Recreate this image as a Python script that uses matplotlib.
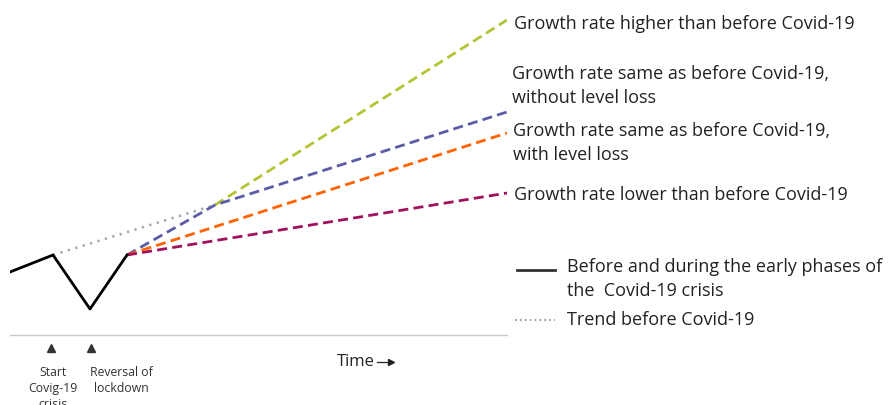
import matplotlib.pyplot as plt
import numpy as np

plt.rcParams['font.family'] = ['Open Sans', 'DejaVu Sans']

# time axis (arbitrary units) and level values of the schematic
t_hist = [0, 4.3, 8.0, 11.7]
lvl_hist = [6.3, 8.0, 2.6, 8.0]

t_trend = [4.3, 20.5]
lvl_trend = [8.0, 13.0]

t_same = [11.7, 20.5, 49.7]
lvl_same = [8.0, 13.0, 22.3]

t_high = [20.5, 49.7]
lvl_high = [13.0, 31.5]

t_loss = [11.7, 49.7]
lvl_loss = [8.0, 20.2]

t_low = [11.7, 49.7]
lvl_low = [8.0, 14.2]

events = [4.1, 8.1]
event_labels = ['Start\nCovig-19\ncrisis', 'Reversal of\nlockdown']

scenario_labels = ['Growth rate higher than before Covid-19',
                   'Growth rate same as before Covid-19,\nwithout level loss',
                   'Growth rate same as before Covid-19,\nwith level loss',
                   'Growth rate lower than before Covid-19']

fig = plt.figure(figsize=(8.88, 4.05), dpi=100)
ax = fig.add_axes([10 / 888, 70 / 405, 497 / 888, 335 / 405])
ax.set_xlim(0, 49.7)
ax.set_ylim(0, 33.5)

dash = (0, (3.6, 1.9))
ax.plot(t_trend, lvl_trend, color='#a6a6a6', lw=1.8, ls=(0, (0.9, 2.2)))
ax.plot(t_high, lvl_high, color='#b5c334', lw=2.0, ls=dash)
ax.plot(t_same, lvl_same, color='#5b5ca6', lw=2.0, ls=dash)
ax.plot(t_loss, lvl_loss, color='#ff6200', lw=2.0, ls=dash)
ax.plot(t_low, lvl_low, color='#a0105c', lw=2.0, ls=dash)
ax.plot(t_hist, lvl_hist, color='black', lw=2.0)

# markers for the events under the time axis
ax.plot(events, [-1.3, -1.3], ls='none', marker='^', color='#333333', ms=6, clip_on=False)
ax.text(events[0] + 0.2, -3.1, event_labels[0], ha='center', va='top', fontsize=8.8,
        color='#333333', linespacing=1.3, clip_on=False)
ax.text(11.1, -3.1, event_labels[1], ha='center', va='top', fontsize=8.8,
        color='#333333', linespacing=1.3, clip_on=False)

for side in ['top', 'right', 'left']:
    ax.spines[side].set_visible(False)
ax.spines['bottom'].set_color('#c8c8c8')
ax.spines['bottom'].set_linewidth(1)
ax.set_xticks([])
ax.set_yticks([])

# "Time" with small arrow
fig.text(337 / 888, 1 - 362 / 405, 'Time', fontsize=12, va='center', ha='left',
         color='#222222')
fig.add_artist(plt.Line2D([377 / 888, 389 / 888], [1 - 362 / 405] * 2, color='#222222', lw=0.9))
fig.add_artist(plt.Line2D([391 / 888], [1 - 362 / 405], marker='>', ms=4, color='#222222'))

# scenario labels at the right
lab_y = [24, 86, 143, 195]
lab_x = [514, 512, 513, 514]
for x, y, s in zip(lab_x, lab_y, scenario_labels):
    fig.text(x / 888, 1 - y / 405, s, fontsize=13, va='center', ha='left',
             color='#222222', linespacing=1.4)

# legend drawn by hand
fig.add_artist(plt.Line2D([517 / 888, 555 / 888], [1 - 270 / 405] * 2, color='#333333', lw=2))
fig.text(567 / 888, 1 - 279 / 405, 'Before and during the early phases of\nthe  Covid-19 crisis',
         fontsize=13, va='center', ha='left', color='#222222', linespacing=1.4)
fig.add_artist(plt.Line2D([515 / 888, 555 / 888], [1 - 320 / 405] * 2, color='#a6a6a6',
                          lw=1.4, ls=(0, (1, 1.5))))
fig.text(567 / 888, 1 - 320 / 405, 'Trend before Covid-19', fontsize=13, va='center',
         ha='left', color='#222222')

fig.savefig('out.png', dpi=100)
